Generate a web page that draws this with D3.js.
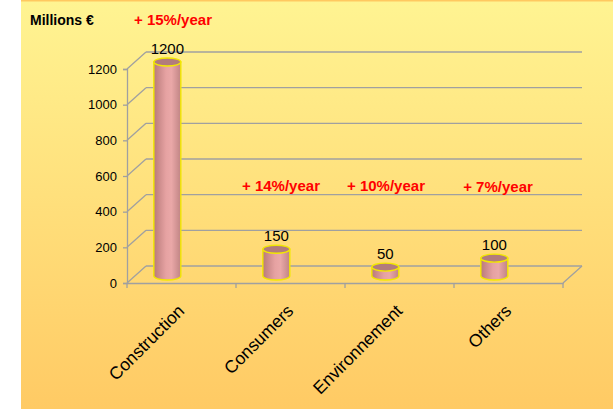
<!DOCTYPE html>
<html><head><meta charset="utf-8">
<script src="https://cdn.jsdelivr.net/npm/d3@7"></script>
<style>html,body{margin:0;padding:0;background:#fff;}svg{display:block;}</style>
</head><body>
<svg id="chart" width="613" height="409"></svg>
<script>
const categories = ["Construction", "Consumers", "Environnement", "Others"];
const values = [1200, 150, 50, 100];
const growthLabels = ["+ 15%/year", "+ 14%/year", "+ 10%/year", "+ 7%/year"];
const yTicks = [0, 200, 400, 600, 800, 1000, 1200];
const unitLabel = "Millions €";

const svg = d3.select("#chart");
const W = 613, H = 409;
const defs = svg.append("defs");
const bg = defs.append("linearGradient").attr("id","bg").attr("x1",0).attr("y1",0).attr("x2",0).attr("y2",1);
bg.append("stop").attr("offset","0%").attr("stop-color","#fff492");
bg.append("stop").attr("offset","100%").attr("stop-color","#ffca64");
const cyl = defs.append("linearGradient").attr("id","cyl").attr("x1",0).attr("y1",0).attr("x2",1).attr("y2",0);
cyl.append("stop").attr("offset","0%").attr("stop-color","#b87a7a");
cyl.append("stop").attr("offset","45%").attr("stop-color","#e6a2a2");
cyl.append("stop").attr("offset","65%").attr("stop-color","#eaa8a8");
cyl.append("stop").attr("offset","100%").attr("stop-color","#c08484");

svg.append("rect").attr("x",21).attr("y",0).attr("width",W-21).attr("height",H).attr("fill","url(#bg)");
svg.append("rect").attr("x",21).attr("y",0).attr("width",W-21).attr("height",1.5).attr("fill","#ffc860");

const x0 = 127, x1 = 563;
const dx = 19, dy = -17;
const x = d3.scaleBand().domain(categories).range([x0, x1]).padding(0);
const y = d3.scaleLinear().domain([0, 1200]).range([283, 69]);

const grid = "#a0a0a0";
const g = svg.append("g");
yTicks.forEach(t => {
  if (t > 0) {
    g.append("line").attr("x1", x0).attr("y1", y(t)).attr("x2", x0+dx).attr("y2", y(t)+dy)
      .attr("stroke", grid).attr("stroke-width", 1.3);
  }
  g.append("line").attr("x1", x0+dx).attr("y1", y(t)+dy).attr("x2", x1+dx).attr("y2", y(t)+dy)
    .attr("stroke", grid).attr("stroke-width", 1.3);
});
g.append("line").attr("x1", x0).attr("y1", y(0)).attr("x2", x0+dx).attr("y2", y(0)+dy).attr("stroke", grid).attr("stroke-width",1.3);
g.append("line").attr("x1", x1).attr("y1", y(0)).attr("x2", x1+dx).attr("y2", y(0)+dy).attr("stroke", grid).attr("stroke-width",1.3);

const yAxis = d3.axisLeft(y).tickValues(yTicks).tickFormat(d3.format("d")).tickSize(4).tickPadding(6);
const ya = svg.append("g").attr("transform", `translate(${x0},0)`).call(yAxis);
ya.select(".domain").attr("stroke", grid).attr("stroke-width",1.3);
ya.selectAll(".tick line").attr("stroke", grid).attr("stroke-width",1.3);
ya.selectAll(".tick text").attr("font-family","Liberation Sans, Arial, sans-serif").attr("font-size",13).attr("fill","#000");

const xAxis = d3.axisBottom(x).tickSize(0).tickFormat("");
const xa = svg.append("g").attr("transform", `translate(0,${y(0)})`).call(xAxis);
xa.select(".domain").attr("stroke", grid).attr("stroke-width",1.3);
xa.selectAll(".tick").remove();
const edges = categories.map(c => x(c)).concat([x1]);
xa.selectAll("line.sep").data(edges).enter().append("line")
  .attr("x1", d => d).attr("x2", d => d).attr("y1", 0).attr("y2", 5)
  .attr("stroke", grid).attr("stroke-width", 1.3);

svg.selectAll("text.cat").data(categories).enter().append("text")
  .attr("class","cat")
  .attr("transform", d => `translate(${x(d)+x.bandwidth()/2+4},${312}) rotate(-45)`)
  .attr("text-anchor","end")
  .attr("font-family","Liberation Sans, Arial, sans-serif").attr("font-size",17.5)
  .attr("fill","#000").text(d => d);

const rx = 13.5, ry = 4;
const cx = c => x(c) + x.bandwidth()*0.37;
const base = v => y(v) - 7;
const cg = svg.selectAll("g.cyl").data(categories.map((c,i)=>({c, v: values[i]}))).enter().append("g");
cg.append("path")
  .attr("d", d => {
    const X = cx(d.c), yt = base(d.v), yb = base(0);
    return `M${X-rx},${yt} L${X-rx},${yb} A${rx},${ry} 0 0 0 ${X+rx},${yb} L${X+rx},${yt} Z`;
  })
  .attr("fill","url(#cyl)").attr("stroke","#f2e800").attr("stroke-width",1.4);
cg.append("ellipse")
  .attr("cx", d => cx(d.c)).attr("cy", d => base(d.v))
  .attr("rx", rx).attr("ry", ry)
  .attr("fill","#b27c7c").attr("stroke","#f2e800").attr("stroke-width",1.4);
cg.append("text")
  .attr("x", d => cx(d.c)).attr("y", d => base(d.v) - 8)
  .attr("text-anchor","middle")
  .attr("font-family","Liberation Sans, Arial, sans-serif").attr("font-size",15)
  .attr("fill","#000").text(d => d.v);

const annPos = [[173, 25], [281, 191], [386, 191], [498, 192]];
svg.selectAll("text.ann").data(growthLabels).enter().append("text")
  .attr("x", (d,i) => annPos[i][0]).attr("y", (d,i) => annPos[i][1])
  .attr("text-anchor","middle")
  .attr("font-family","Liberation Sans Narrow, Liberation Sans, Arial, sans-serif")
  .attr("font-weight","bold").attr("font-size",15)
  .attr("fill","#ff0000").text(d => d);

svg.append("text").attr("x", 30).attr("y", 25)
  .attr("font-family","Liberation Sans, Arial, sans-serif").attr("font-weight","bold")
  .attr("font-size",14).attr("fill","#000").text(unitLabel);
</script>
</body></html>
